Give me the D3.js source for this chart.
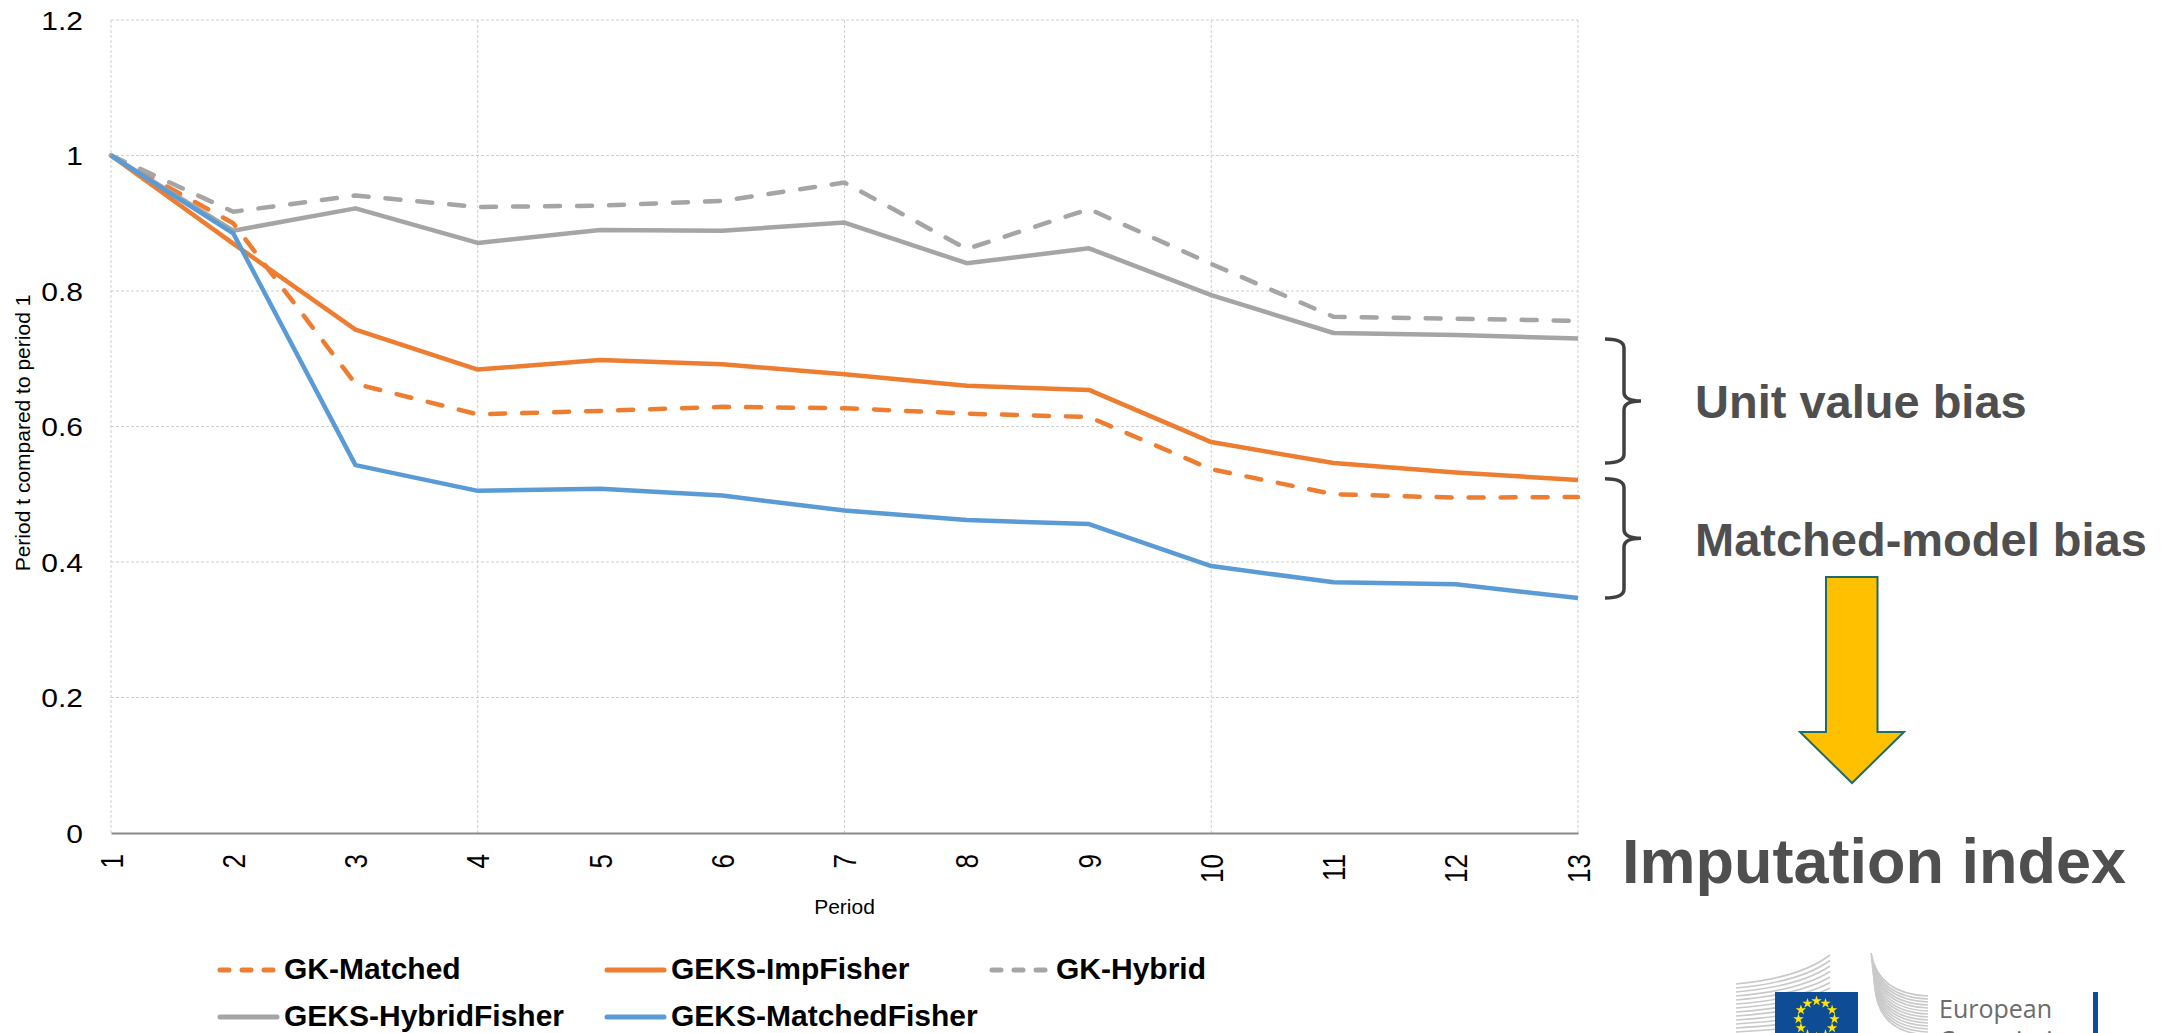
<!DOCTYPE html>
<html>
<head>
<meta charset="UTF-8">
<title>Imputation index</title>
<style>
  body { margin: 0; background: #fff; }
  svg { display: block; font-family: "Liberation Sans", Arial, sans-serif; }
</style>
</head>
<body>
<div id="chart"></div>
<script src="https://d3js.org/d3.v7.min.js"></script>
<script>
// data
var periods = [1, 2, 3, 4, 5, 6, 7, 8, 9, 10, 11, 12, 13];
var gkMatched        = [1, 0.900, 0.663, 0.618, 0.623, 0.629, 0.627, 0.619, 0.614, 0.537, 0.500, 0.495, 0.496];
var geksImpFisher    = [1, 0.870, 0.743, 0.684, 0.698, 0.692, 0.677, 0.660, 0.654, 0.577, 0.546, 0.532, 0.521];
var gkHybrid         = [1, 0.917, 0.941, 0.924, 0.926, 0.933, 0.960, 0.862, 0.921, 0.840, 0.762, 0.759, 0.756];
var geksHybridFisher = [1, 0.889, 0.922, 0.871, 0.890, 0.889, 0.901, 0.841, 0.863, 0.794, 0.738, 0.735, 0.730];
var geksMatchedFisher= [1, 0.885, 0.543, 0.505, 0.508, 0.498, 0.476, 0.462, 0.456, 0.394, 0.370, 0.367, 0.347];
var yTicks = [0, 0.2, 0.4, 0.6, 0.8, 1, 1.2];
var xGridPeriods = [1, 4, 7, 10, 13];

var series = [
  { name: "GK-Matched",        values: gkMatched,         color: "#ED7D31", dashed: true },
  { name: "GEKS-ImpFisher",    values: geksImpFisher,     color: "#ED7D31", dashed: false },
  { name: "GK-Hybrid",         values: gkHybrid,          color: "#A5A5A5", dashed: true },
  { name: "GEKS-HybridFisher", values: geksHybridFisher,  color: "#A5A5A5", dashed: false },
  { name: "GEKS-MatchedFisher",values: geksMatchedFisher, color: "#5B9BD5", dashed: false }
];

var width = 2169, height = 1033;
var plot = { left: 111, right: 1578, top: 20, bottom: 833 };

var svg = d3.select("#chart").append("svg")
  .attr("width", width).attr("height", height);

var x = d3.scalePoint().domain(periods).range([plot.left, plot.right]);
var y = d3.scaleLinear().domain([0, 1.2]).range([plot.bottom, plot.top]);

// gridlines
svg.append("g").selectAll("line.h")
  .data(yTicks.filter(function(d) { return d > 0; }))
  .join("line")
  .attr("x1", plot.left).attr("x2", plot.right)
  .attr("y1", function(d) { return y(d); }).attr("y2", function(d) { return y(d); })
  .attr("stroke", "#cfcfcf").attr("stroke-width", 1).attr("stroke-dasharray", "3,2");

svg.append("g").selectAll("line.v")
  .data(xGridPeriods)
  .join("line")
  .attr("x1", function(d) { return x(d); }).attr("x2", function(d) { return x(d); })
  .attr("y1", plot.top).attr("y2", plot.bottom)
  .attr("stroke", "#cfcfcf").attr("stroke-width", 1).attr("stroke-dasharray", "3,2");

// y axis (labels only)
var yAxis = svg.append("g")
  .attr("transform", "translate(" + plot.left + ",0)")
  .call(d3.axisLeft(y).tickValues(yTicks).tickSize(0).tickFormat(d3.format("")));
yAxis.select(".domain").remove();
yAxis.selectAll("text")
  .attr("font-size", 25).attr("fill", "#000")
  .attr("font-family", "Liberation Sans, Arial, sans-serif")
  .attr("x", -28 / 1.2).attr("dy", "0.36em")
  .attr("transform", "scale(1.2,1)");

// x axis
var xAxis = svg.append("g")
  .attr("transform", "translate(0," + plot.bottom + ")")
  .call(d3.axisBottom(x).tickSize(0));
xAxis.select(".domain").attr("stroke", "#898989").attr("stroke-width", 2);
xAxis.selectAll("text")
  .attr("font-size", 26).attr("fill", "#000")
  .attr("font-family", "Liberation Sans, Arial, sans-serif")
  .attr("x", 0).attr("y", 0).attr("dy", "0.36em")
  .attr("text-anchor", "end")
  .attr("transform", "translate(0,21) scale(1.2,1) rotate(-90)");

// axis titles
svg.append("text")
  .attr("x", (plot.left + plot.right) / 2).attr("y", 914)
  .attr("text-anchor", "middle").attr("font-size", 21).attr("fill", "#000")
  .text("Period");

svg.append("text")
  .attr("transform", "translate(30," + 433 + ") rotate(-90)")
  .attr("text-anchor", "middle").attr("font-size", 21).attr("fill", "#000")
  .text("Period t compared to period 1");

// lines
var line = d3.line()
  .x(function(d, i) { return x(periods[i]); })
  .y(function(d) { return y(d); });

series.forEach(function(s) {
  svg.append("path")
    .datum(s.values)
    .attr("d", line)
    .attr("fill", "none")
    .attr("stroke", s.color)
    .attr("stroke-width", 4.5)
    .attr("stroke-linejoin", "round")
    .attr("stroke-linecap", s.dashed ? "round" : "butt")
    .attr("stroke-dasharray", s.dashed ? "15,17" : null);
});

// legend
var legendPos = [
  { x: 220, y: 970 }, { x: 607, y: 970 }, { x: 992, y: 970 },
  { x: 220, y: 1017 }, { x: 607, y: 1017 }
];
var legend = svg.append("g").selectAll("g")
  .data(series)
  .join("g")
  .attr("transform", function(d, i) { return "translate(" + legendPos[i].x + "," + legendPos[i].y + ")"; });
legend.append("line")
  .attr("x1", 0).attr("x2", 57).attr("y1", 0).attr("y2", 0)
  .attr("stroke", function(d) { return d.color; })
  .attr("stroke-width", 5)
  .attr("stroke-linecap", "round")
  .attr("stroke-dasharray", function(d) { return d.dashed ? "9,13" : null; });
legend.append("text")
  .attr("x", 64).attr("y", 9)
  .attr("font-size", 30).attr("font-weight", "bold").attr("fill", "#000")
  .text(function(d) { return d.name; });

// annotations: braces
function brace(y0, y1) {
  var x0 = 1605, x1 = 1624, x2 = 1641, r = 9;
  var ym = (y0 + y1) / 2;
  return "M" + x0 + "," + y0 + " Q" + x1 + "," + y0 + " " + x1 + "," + (y0 + r) +
    " L" + x1 + "," + (ym - r) + " Q" + x1 + "," + ym + " " + x2 + "," + ym +
    " Q" + x1 + "," + ym + " " + x1 + "," + (ym + r) +
    " L" + x1 + "," + (y1 - r) + " Q" + x1 + "," + y1 + " " + x0 + "," + y1;
}
svg.append("path").attr("d", brace(y(0.729), y(0.546)))
  .attr("fill", "none").attr("stroke", "#404040").attr("stroke-width", 3.5);
svg.append("path").attr("d", brace(y(0.523), y(0.347)))
  .attr("fill", "none").attr("stroke", "#404040").attr("stroke-width", 3.5);

svg.append("text").attr("x", 1695).attr("y", 418)
  .attr("font-size", 47).attr("font-weight", "bold").attr("fill", "#4f4f4f")
  .text("Unit value bias");
svg.append("text").attr("x", 1695).attr("y", 556)
  .attr("font-size", 47).attr("font-weight", "bold").attr("fill", "#4f4f4f")
  .text("Matched-model bias");

// arrow
svg.append("path")
  .attr("d", "M1826,577 L1877.5,577 L1877.5,732 L1904,732 L1852,783 L1800,732 L1826,732 Z")
  .attr("fill", "#FFC000").attr("stroke", "#1F6B68").attr("stroke-width", 2)
  .attr("stroke-linejoin", "miter");

svg.append("text").attr("x", 1622).attr("y", 883)
  .attr("font-size", 63).attr("font-weight", "bold").attr("fill", "#4f4f4f")
  .text("Imputation index");

// EU logo (partial, cut by bottom edge)
var logo = svg.append("g");
d3.range(14).forEach(function(i) {
  var yy = 984 + i * 4;
  logo.append("path")
    .attr("d", "M1736," + yy + " Q1800," + (yy - 6 + i * 0.2) + " 1830," + (955 + i * 5.5))
    .attr("fill", "none").attr("stroke", "#c9c9c9").attr("stroke-width", 1.6);
});
d3.range(14).forEach(function(i) {
  var yy = 996 + i * 3;
  logo.append("path")
    .attr("d", "M" + (1871 + i * 0.3) + "," + (953 + i * 2.6) + " Q1878," + (yy - 2) + " 1928," + yy)
    .attr("fill", "none").attr("stroke", "#c9c9c9").attr("stroke-width", 1.6);
});
logo.append("rect").attr("x", 1775).attr("y", 992).attr("width", 83).attr("height", 60)
  .attr("fill", "#0E4C96");
var star = d3.symbol().type(d3.symbolStar).size(34);
d3.range(12).forEach(function(i) {
  var a = i * Math.PI / 6;
  logo.append("path").attr("d", star)
    .attr("transform", "translate(" + (1816.5 + 18 * Math.sin(a)) + "," + (1019 - 18 * Math.cos(a)) + ")")
    .attr("fill", "#FFE500");
});
logo.append("text").attr("x", 1939).attr("y", 1018)
  .attr("font-size", 25).attr("fill", "#6b6b6b").attr("font-family", "Open Sans, Liberation Sans, sans-serif")
  .text("European");
logo.append("text").attr("x", 1939).attr("y", 1049)
  .attr("font-size", 25).attr("fill", "#6b6b6b").attr("font-family", "Open Sans, Liberation Sans, sans-serif")
  .text("Commission");
logo.append("rect").attr("x", 2093).attr("y", 992).attr("width", 5).attr("height", 50)
  .attr("fill", "#0E4C96");
</script>
</body>
</html>
